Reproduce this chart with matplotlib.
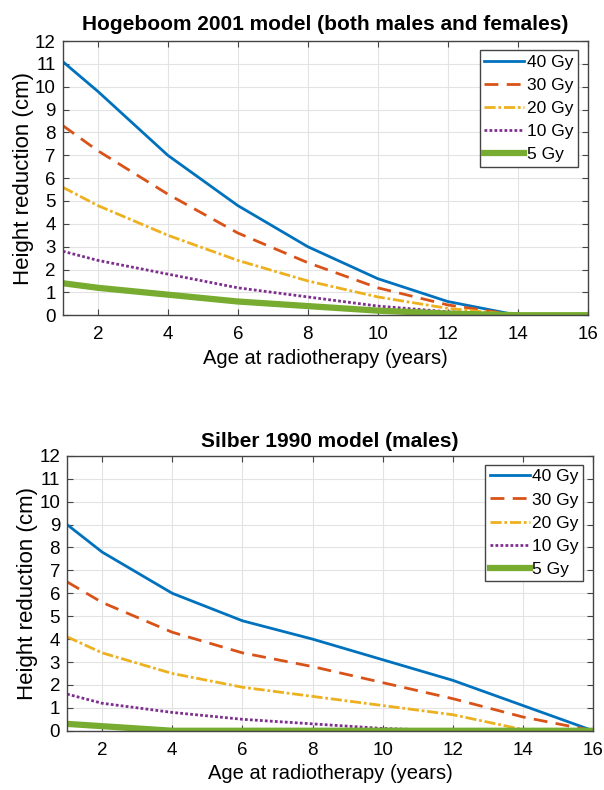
import matplotlib.pyplot as plt

plt.rcParams['font.family'] = ['Liberation Sans', 'DejaVu Sans']

# data
doses = ['40 Gy', '30 Gy', '20 Gy', '10 Gy', '5 Gy']
age = [1, 2, 4, 6, 8, 10, 12, 14, 16]

hog_40 = [11.1, 9.8, 7.0, 4.8, 3.0, 1.6, 0.6, 0.0, 0.0]
hog_30 = [8.3, 7.2, 5.3, 3.6, 2.3, 1.2, 0.45, 0.0, 0.0]
hog_20 = [5.6, 4.8, 3.5, 2.4, 1.5, 0.8, 0.3, 0.0, 0.0]
hog_10 = [2.8, 2.4, 1.8, 1.2, 0.8, 0.4, 0.15, 0.0, 0.0]
hog_5 = [1.4, 1.2, 0.9, 0.6, 0.4, 0.2, 0.07, 0.0, 0.0]

sil_40 = [9.0, 7.8, 6.0, 4.8, 4.0, 3.1, 2.2, 1.1, 0.0]
sil_30 = [6.5, 5.6, 4.3, 3.4, 2.8, 2.1, 1.4, 0.6, 0.0]
sil_20 = [4.1, 3.4, 2.5, 1.9, 1.5, 1.1, 0.7, 0.05, 0.0]
sil_10 = [1.6, 1.2, 0.8, 0.5, 0.3, 0.1, 0.0, 0.0, 0.0]
sil_5 = [0.3, 0.2, 0.0, 0.0, 0.0, 0.0, 0.0, 0.0, 0.0]

colors = ['#0072BD', '#D95319', '#EDB120', '#7E2F8E', '#77AC30']
styles = ['-', (0, (5, 3)), (0, (4, 1, 1, 1)), (0, (1, 0.8)), '-']
widths = [2, 2, 2, 2, 4.5]

fig = plt.figure(figsize=(6.04, 7.90), dpi=100)
ax1 = fig.add_axes([0.104, 0.601, 0.869, 0.347])
ax2 = fig.add_axes([0.111, 0.075, 0.871, 0.348])


def draw(ax, series, title, tpad):
    for y, lab, c, ls, lw in zip(series, doses, colors, styles, widths):
        ax.plot(age, y, color=c, linestyle=ls, linewidth=lw, label=lab)
    ax.set_xlim(1, 16)
    ax.set_ylim(0, 12)
    ax.set_xticks(range(2, 17, 2))
    ax.set_yticks(range(0, 13))
    ax.grid(True, color='#e3e3e3', linewidth=0.8)
    ax.set_axisbelow(True)
    ax.tick_params(direction='in', top=True, right=True, labelsize=13.5,
                   length=4, color='#444444')
    ax.tick_params(axis='x', pad=8)
    ax.tick_params(axis='y', pad=5)
    for s in ax.spines.values():
        s.set_color('#444444')
        s.set_linewidth(1)
    ax.set_title(title, fontsize=15, fontweight='bold', pad=tpad)
    ax.set_xlabel('Age at radiotherapy (years)', fontsize=14.5, labelpad=4)
    ax.set_ylabel('Height reduction (cm)', fontsize=16, labelpad=1)
    leg = ax.legend(loc='upper right', fontsize=12.5, fancybox=False,
                    framealpha=1, edgecolor='#444444', handlelength=2.3,
                    handletextpad=0.15, borderpad=0.25, labelspacing=0.46,
                    borderaxespad=0, bbox_to_anchor=(0.981, 0.967))
    leg.get_frame().set_linewidth(1)


draw(ax1, [hog_40, hog_30, hog_20, hog_10, hog_5],
     'Hogeboom 2001 model (both males and females)', 8)
draw(ax2, [sil_40, sil_30, sil_20, sil_10, sil_5],
     'Silber 1990 model (males)', 6)

fig.savefig('out.png', dpi=100)
